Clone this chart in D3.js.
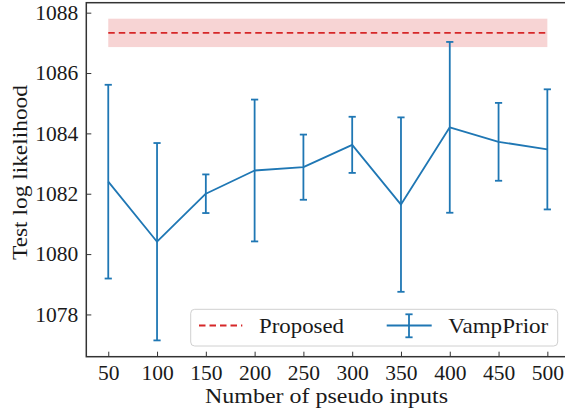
<!DOCTYPE html>
<html>
<head>
<meta charset="utf-8">
<script src="https://cdn.jsdelivr.net/npm/d3@7"></script>
<style>
  body { margin: 0; background: #fff; }
  svg { display: block; }
  text { font-family: "Liberation Serif", "DejaVu Serif", serif; fill: #1a1a1a; }
</style>
</head>
<body>
<div id="chart"></div>
<script>
// number of pseudo inputs
const pseudoInputs = [50, 100, 150, 200, 250, 300, 350, 400, 450, 500];
// VampPrior mean test log likelihood and error bar half widths
const vampMean = [1082.40, 1080.41, 1082.00, 1082.77, 1082.88, 1083.62, 1081.64, 1084.20, 1083.72, 1083.47];
const vampErr = [3.21, 3.27, 0.64, 2.35, 1.08, 0.93, 2.89, 2.83, 1.29, 1.99];
// proposed method: constant line with band
const proposedMean = 1087.33;
const proposedErr = 0.47;

const xTicks = [50, 100, 150, 200, 250, 300, 350, 400, 450, 500];
const yTicks = [1078, 1080, 1082, 1084, 1086, 1088];
const legendLabels = ["Proposed", "VampPrior"];

const W = 565, H = 412;
const BLUE = "#1f77b4", RED = "#d62728";

const plotLeft = 86.3, plotRight = 569.3, plotTop = 2.7, plotBottom = 356.7;

const svg = d3.select("#chart").append("svg")
  .attr("width", W)
  .attr("height", H);

const x = d3.scaleLinear().domain([27.5, 522.5]).range([plotLeft, plotRight]);
const y = d3.scaleLinear().domain([1076.60, 1088.33]).range([plotBottom, plotTop]);

// band + dashed line for Proposed
const xMin = d3.min(pseudoInputs), xMax = d3.max(pseudoInputs);
svg.append("rect")
  .attr("x", x(xMin))
  .attr("width", x(xMax) - x(xMin))
  .attr("y", y(proposedMean + proposedErr))
  .attr("height", y(proposedMean - proposedErr) - y(proposedMean + proposedErr))
  .attr("fill", RED)
  .attr("fill-opacity", 0.2);

svg.append("line")
  .attr("x1", x(xMin)).attr("x2", x(xMax))
  .attr("y1", y(proposedMean)).attr("y2", y(proposedMean))
  .attr("stroke", RED)
  .attr("stroke-width", 1.8)
  .attr("stroke-dasharray", "6.5,4");

// VampPrior errorbars
const rows = pseudoInputs.map((p, i) => ({ p: p, m: vampMean[i], e: vampErr[i] }));
const cap = 3.6;

const eb = svg.append("g").attr("stroke", BLUE).attr("stroke-width", 1.8).attr("fill", "none");
eb.selectAll(".bar")
  .data(rows)
  .enter().append("line")
  .attr("x1", d => x(d.p)).attr("x2", d => x(d.p))
  .attr("y1", d => y(d.m - d.e)).attr("y2", d => y(d.m + d.e));
eb.selectAll(".capTop")
  .data(rows)
  .enter().append("line")
  .attr("x1", d => x(d.p) - cap).attr("x2", d => x(d.p) + cap)
  .attr("y1", d => y(d.m + d.e)).attr("y2", d => y(d.m + d.e));
eb.selectAll(".capBot")
  .data(rows)
  .enter().append("line")
  .attr("x1", d => x(d.p) - cap).attr("x2", d => x(d.p) + cap)
  .attr("y1", d => y(d.m - d.e)).attr("y2", d => y(d.m - d.e));

svg.append("path")
  .datum(rows)
  .attr("fill", "none")
  .attr("stroke", BLUE)
  .attr("stroke-width", 1.8)
  .attr("stroke-linejoin", "round")
  .attr("d", d3.line().x(d => x(d.p)).y(d => y(d.m)));

// axes (ticks pointing inward)
const xAxis = svg.append("g")
  .attr("transform", "translate(0," + plotBottom + ")")
  .call(d3.axisBottom(x).tickValues(xTicks).tickSizeInner(-5).tickSizeOuter(0).tickPadding(6));
const yAxis = svg.append("g")
  .attr("transform", "translate(" + plotLeft + ",0)")
  .call(d3.axisLeft(y).tickValues(yTicks).tickSizeInner(-5).tickSizeOuter(0).tickPadding(8).tickFormat(d3.format("d")));

[xAxis, yAxis].forEach(a => {
  a.select(".domain").remove();
  a.selectAll(".tick line").attr("stroke", "#333").attr("stroke-width", 1);
  a.selectAll(".tick text").style("font-size", "21.5px").attr("fill", "#1a1a1a");
});
xAxis.selectAll(".tick text").attr("dy", "0.8em");

// frame
svg.append("rect")
  .attr("x", plotLeft).attr("y", plotTop)
  .attr("width", plotRight - plotLeft).attr("height", plotBottom - plotTop)
  .attr("fill", "none")
  .attr("stroke", "#333")
  .attr("stroke-width", 1.5);

// axis labels
svg.append("text")
  .attr("x", 326.5).attr("y", 403)
  .attr("text-anchor", "middle")
  .attr("textLength", 243)
  .attr("lengthAdjust", "spacingAndGlyphs")
  .style("font-size", "21.5px")
  .text("Number of pseudo inputs");

svg.append("text")
  .attr("transform", "translate(27,172.5) rotate(-90)")
  .attr("text-anchor", "middle")
  .attr("textLength", 175)
  .attr("lengthAdjust", "spacingAndGlyphs")
  .style("font-size", "21.5px")
  .text("Test log likelihood");

// legend
const lg = svg.append("g");
lg.append("rect")
  .attr("x", 190.7).attr("y", 309.3)
  .attr("width", 367).attr("height", 36.7)
  .attr("rx", 4)
  .attr("fill", "#fff").attr("fill-opacity", 0.8)
  .attr("stroke", "#d0d0d0").attr("stroke-width", 1);

const ly = 325.5;
lg.append("line")
  .attr("x1", 199).attr("x2", 242.3)
  .attr("y1", ly).attr("y2", ly)
  .attr("stroke", RED).attr("stroke-width", 1.8)
  .attr("stroke-dasharray", "6.5,4");
lg.append("text")
  .attr("x", 259).attr("y", 333)
  .attr("textLength", 85)
  .attr("lengthAdjust", "spacingAndGlyphs")
  .style("font-size", "21.5px")
  .text(legendLabels[0]);

lg.append("line")
  .attr("x1", 386.7).attr("x2", 431.7)
  .attr("y1", ly).attr("y2", ly)
  .attr("stroke", BLUE).attr("stroke-width", 1.8);
lg.append("line")
  .attr("x1", 409).attr("x2", 409)
  .attr("y1", 314.3).attr("y2", 337.3)
  .attr("stroke", BLUE).attr("stroke-width", 1.8);
[314.3, 337.3].forEach(cy => {
  lg.append("line")
    .attr("x1", 409 - cap).attr("x2", 409 + cap)
    .attr("y1", cy).attr("y2", cy)
    .attr("stroke", BLUE).attr("stroke-width", 1.8);
});
lg.append("text")
  .attr("x", 448.3).attr("y", 333)
  .attr("textLength", 100)
  .attr("lengthAdjust", "spacingAndGlyphs")
  .style("font-size", "21.5px")
  .text(legendLabels[1]);
</script>
</body>
</html>
